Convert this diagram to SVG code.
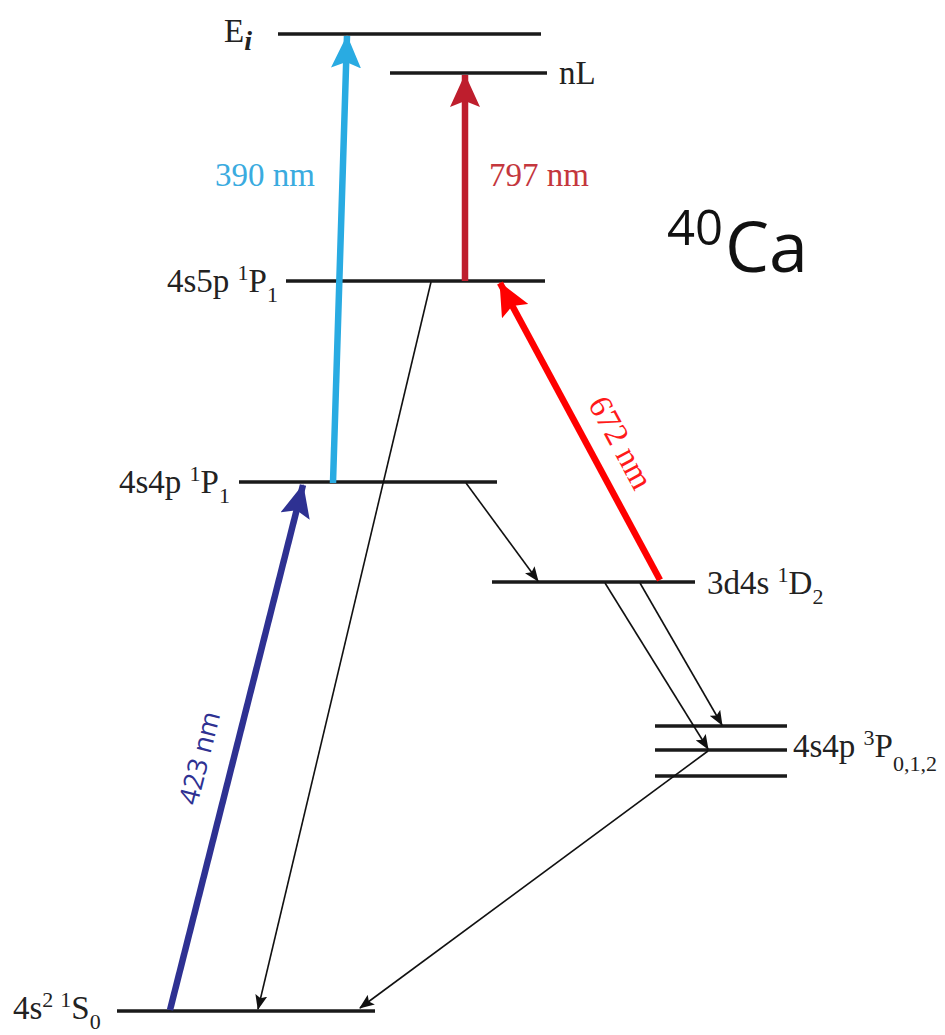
<svg xmlns="http://www.w3.org/2000/svg" width="945" height="1035" viewBox="0 0 945 1035">
<style>
.lvl{stroke:#1a1a1a;stroke-width:3.5;fill:none}
.lbl{font-family:"Liberation Serif","Times New Roman",serif;font-size:33px;fill:#222}
.sub{font-size:22px}
.thin{stroke:#111;stroke-width:1.6;fill:none;marker-end:url(#hk)}
.thick{fill:none;stroke-width:6.5}
</style>
<defs>
<marker id="hk" markerUnits="userSpaceOnUse" markerWidth="16" markerHeight="12" refX="14" refY="6" orient="auto"><path d="M0,0 L15,6 L0,12 L3,6 Z" fill="#111"/></marker>
<marker id="hb" markerUnits="userSpaceOnUse" markerWidth="34" markerHeight="30" refX="32" refY="15" orient="auto"><path d="M0,0 L33,15 L0,30 L6,15 Z" fill="#29abe2"/></marker>
<marker id="hr" markerUnits="userSpaceOnUse" markerWidth="34" markerHeight="30" refX="32" refY="15" orient="auto"><path d="M0,0 L33,15 L0,30 L6,15 Z" fill="#be1e2d"/></marker>
<marker id="hf" markerUnits="userSpaceOnUse" markerWidth="34" markerHeight="30" refX="32" refY="15" orient="auto"><path d="M0,0 L33,15 L0,30 L6,15 Z" fill="#ff0000"/></marker>
<marker id="hd" markerUnits="userSpaceOnUse" markerWidth="34" markerHeight="30" refX="32" refY="15" orient="auto"><path d="M0,0 L33,15 L0,30 L6,15 Z" fill="#2e3192"/></marker>
</defs>
<rect width="945" height="1035" fill="#fff"/>

<g id="level-Ei">
<line class="lvl" x1="278" y1="34" x2="541" y2="34"/>
<text class="lbl" x="224" y="42" font-size="35">E<tspan font-style="italic" font-weight="bold" font-size="28" dy="8">i</tspan></text>
</g>
<g id="level-nL">
<line class="lvl" x1="390" y1="73" x2="547" y2="73"/>
<text class="lbl" x="559" y="84" font-size="34">nL</text>
</g>
<g id="level-4s5p">
<line class="lvl" x1="286" y1="281" x2="545" y2="281"/>
<text class="lbl" x="167" y="292">4s5p <tspan class="sub" dy="-12">1</tspan><tspan dy="12">P</tspan><tspan class="sub" dy="10">1</tspan></text>
</g>
<g id="level-4s4p1P1">
<line class="lvl" x1="239" y1="482" x2="497" y2="482"/>
<text class="lbl" x="119" y="493">4s4p <tspan class="sub" dy="-12">1</tspan><tspan dy="12">P</tspan><tspan class="sub" dy="10">1</tspan></text>
</g>
<g id="level-3d4s">
<line class="lvl" x1="492" y1="582" x2="695" y2="582"/>
<text class="lbl" x="707" y="594">3d4s <tspan class="sub" dy="-12">1</tspan><tspan dy="12">D</tspan><tspan class="sub" dy="10">2</tspan></text>
</g>
<g id="level-4s4p3P">
<line class="lvl" x1="655" y1="726" x2="787" y2="726"/>
<line class="lvl" x1="655" y1="750" x2="787" y2="750"/>
<line class="lvl" x1="655" y1="776" x2="787" y2="776"/>
<text class="lbl" x="793" y="757">4s4p <tspan class="sub" dy="-12">3</tspan><tspan dy="12">P</tspan><tspan class="sub" dy="14">0,1,2</tspan></text>
</g>
<g id="level-ground">
<line class="lvl" x1="117" y1="1011" x2="375" y2="1011"/>
<text class="lbl" x="13" y="1019">4s<tspan class="sub" dy="-12">2</tspan><tspan class="sub" dx="7">1</tspan><tspan dy="12">S</tspan><tspan class="sub" dy="10">0</tspan></text>
</g>
<g id="title">
<text x="667" y="245" font-family="Open Sans, sans-serif" font-size="49" fill="#111">40</text>
<text x="725" y="272" font-family="Open Sans, sans-serif" font-size="70" fill="#111">Ca</text>
</g>

<g id="connectors">
<line class="thick" stroke="#29abe2" x1="333" y1="483" x2="347" y2="36" marker-end="url(#hb)"/>
<line class="thick" stroke="#be1e2d" x1="465" y1="281" x2="465" y2="75" marker-end="url(#hr)"/>
<line class="thick" stroke="#ff0000" x1="660" y1="580" x2="500" y2="283" marker-end="url(#hf)"/>
<line class="thick" stroke="#2e3192" x1="170" y1="1010" x2="303" y2="485" marker-end="url(#hd)"/>
<line class="thin" x1="431" y1="282" x2="258" y2="1009"/>
<line class="thin" x1="466" y1="483" x2="538" y2="581"/>
<line class="thin" x1="605" y1="583" x2="708" y2="749"/>
<line class="thin" x1="640" y1="583" x2="722" y2="725"/>
<line class="thin" x1="708" y1="751" x2="360" y2="1008"/>
<text x="215" y="186" font-family="Liberation Serif, serif" font-size="33" fill="#3aabdf">390 nm</text>
<text x="489" y="186" font-family="Liberation Serif, serif" font-size="33" fill="#c4373d">797 nm</text>
<text transform="translate(620,443) rotate(61.7)" text-anchor="middle" dy="10" font-family="Liberation Serif, serif" font-size="33" fill="#ff1a1a">672 nm</text>
<text transform="translate(200,758) rotate(-75.8)" text-anchor="middle" dy="9" font-family="Open Sans, sans-serif" font-size="27" fill="#2e3192">423 nm</text>
</g>
</svg>
